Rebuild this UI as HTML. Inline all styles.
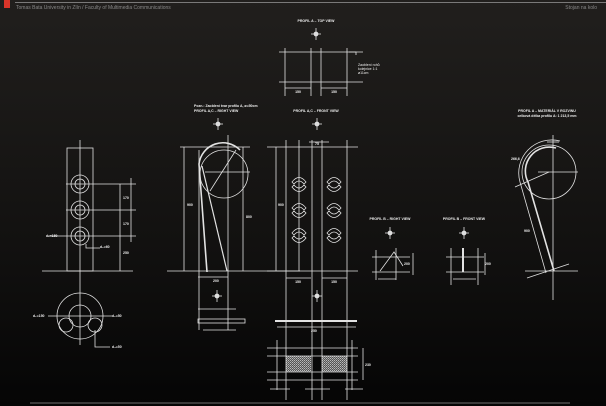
<!DOCTYPE html>
<html><head><meta charset="utf-8"><style>
html,body{margin:0;padding:0;width:606px;height:406px;overflow:hidden;background:#151413}
svg{display:block}
text{font-family:"Liberation Sans",sans-serif;fill:#eee;font-weight:bold}
</style></head><body>
<svg width="606" height="406" viewBox="0 0 606 406" xmlns="http://www.w3.org/2000/svg">
<defs>
<linearGradient id="bg" x1="0" y1="0" x2="0" y2="1">
<stop offset="0" stop-color="#211f1d"/><stop offset="0.6" stop-color="#121110"/><stop offset="1" stop-color="#050505"/>
</linearGradient>
<pattern id="h" width="2" height="2" patternUnits="userSpaceOnUse"><rect width="2" height="2" fill="#555"/><rect width="1" height="1" fill="#bbb"/><rect x="1" y="1" width="1" height="1" fill="#999"/></pattern>
<g id="cr"><line x1="-5" y1="0" x2="5" y2="0"/><line x1="0" y1="-6" x2="0" y2="6"/><circle r="2" fill="#ddd"/></g>
<path id="kid" d="M-7,-2 Q0,-11 7,-2 L5,0 Q0,-6 -5,0 Z M-7,3 Q0,12 7,3 L5,1 Q0,7 -5,1 Z" fill="none"/>
</defs>
<rect width="606" height="406" fill="url(#bg)"/>
<rect x="4" y="0" width="6" height="8" fill="#d9352a"/>
<line x1="15" y1="2.5" x2="606" y2="2.5" stroke="#999" stroke-width="0.8"/>
<text x="16" y="9" font-size="5" style="fill:#888;font-weight:normal">Tomas Bata University in Zlín / Faculty of Multimedia Communications</text>
<text x="597" y="9" font-size="5" text-anchor="end" style="fill:#888;font-weight:normal">Stojan na kolo</text>

<rect x="286" y="356" width="25" height="16" fill="url(#h)"/>
<rect x="322" y="356" width="25" height="16" fill="url(#h)"/>

<g stroke="#e2e2e2" stroke-width="0.8" fill="none">
<use href="#cr" x="316" y="34"/>
<line x1="279" y1="52" x2="363" y2="52"/><line x1="279" y1="82" x2="363" y2="82"/>
<line x1="285" y1="48" x2="285" y2="96"/><line x1="311" y1="48" x2="311" y2="96"/>
<line x1="321" y1="48" x2="321" y2="96"/><line x1="347" y1="48" x2="347" y2="96"/>
<line x1="285" y1="88" x2="311" y2="88"/><line x1="321" y1="88" x2="347" y2="88"/>
<polyline points="349,52 356,52 356,55"/>

<rect x="67" y="148" width="26" height="123"/>
<line x1="80" y1="140" x2="80" y2="345"/>
<line x1="42" y1="271" x2="133" y2="271"/>
<circle cx="80" cy="184" r="9"/><circle cx="80" cy="184" r="5"/>
<circle cx="80" cy="210" r="9"/><circle cx="80" cy="210" r="5"/>
<circle cx="80" cy="236" r="9"/><circle cx="80" cy="236" r="5"/>
<line x1="66" y1="184" x2="136" y2="184"/><line x1="66" y1="210" x2="136" y2="210"/><line x1="48" y1="236" x2="136" y2="236"/>
<line x1="120" y1="184" x2="120" y2="271"/><line x1="131" y1="178" x2="131" y2="242"/>
<polyline points="86,244 86,248 100,248"/>
<circle cx="80" cy="316" r="23"/><circle cx="80" cy="316" r="11"/>
<circle cx="66" cy="325" r="7"/><circle cx="95" cy="325" r="7"/>
<line x1="48" y1="316" x2="112" y2="316"/>
<polyline points="95,330 95,347 110,347"/>

<use href="#cr" x="218" y="124"/>
<line x1="180" y1="147" x2="250" y2="147"/>
<circle cx="224" cy="174" r="24"/>
<path d="M207,272 L199,164 A24,24 0 0,1 240,150" stroke-width="1.6"/>
<path d="M227,271 L202,166" stroke-width="1.2"/>
<line x1="167" y1="271" x2="300" y2="271"/>
<line x1="184" y1="147" x2="184" y2="271"/><line x1="199" y1="150" x2="199" y2="330"/>
<line x1="228" y1="135" x2="228" y2="330"/><line x1="243" y1="147" x2="243" y2="271"/>
<line x1="210" y1="191" x2="236" y2="150"/><line x1="205" y1="172" x2="250" y2="172"/>
<line x1="198" y1="277" x2="228" y2="277"/>
<use href="#cr" x="217" y="296"/>
<rect x="198" y="319" width="47" height="4"/>
<line x1="198" y1="309" x2="236" y2="309"/><line x1="203" y1="330" x2="236" y2="330"/>

<use href="#cr" x="317" y="124"/>
<line x1="267" y1="147" x2="358" y2="147"/><line x1="267" y1="271" x2="358" y2="271"/>
<line x1="276" y1="147" x2="276" y2="271"/>
<line x1="286" y1="140" x2="286" y2="400"/><line x1="299" y1="140" x2="299" y2="271"/>
<line x1="312" y1="140" x2="312" y2="400"/><line x1="322" y1="140" x2="322" y2="400"/>
<line x1="347" y1="140" x2="347" y2="400"/>
<line x1="309" y1="142" x2="329" y2="142"/>
<line x1="286" y1="278" x2="311" y2="278"/><line x1="322" y1="278" x2="347" y2="278"/>
<use href="#kid" x="299" y="184"/><use href="#kid" x="299" y="210"/><use href="#kid" x="299" y="235"/>
<use href="#kid" x="334" y="184"/><use href="#kid" x="334" y="210"/><use href="#kid" x="334" y="235"/>
<use href="#cr" x="317" y="296"/>
<line x1="275" y1="321" x2="357" y2="321" stroke-width="2"/>
<line x1="277" y1="327" x2="356" y2="327"/>
<line x1="267" y1="348" x2="358" y2="348"/><line x1="267" y1="356" x2="358" y2="356"/>
<line x1="267" y1="372" x2="358" y2="372"/><line x1="267" y1="380" x2="358" y2="380"/>
<line x1="277" y1="340" x2="277" y2="390"/><line x1="352" y1="340" x2="352" y2="390"/>
<line x1="363" y1="348" x2="363" y2="380"/>
<line x1="270" y1="389" x2="290" y2="389"/><line x1="305" y1="389" x2="330" y2="389"/><line x1="345" y1="389" x2="363" y2="389"/>

<use href="#cr" x="390" y="233"/>
<line x1="372" y1="257" x2="410" y2="257"/><line x1="372" y1="272" x2="410" y2="272"/>
<line x1="376" y1="250" x2="376" y2="280"/><line x1="396" y1="248" x2="396" y2="280"/>
<polyline points="380,271 394,252 403,266"/>
<line x1="413" y1="253" x2="413" y2="275"/><line x1="378" y1="279" x2="396" y2="279"/>
<use href="#cr" x="464" y="233"/>
<line x1="446" y1="257" x2="484" y2="257"/><line x1="446" y1="272" x2="484" y2="272"/>
<line x1="451" y1="248" x2="451" y2="285"/><line x1="478" y1="248" x2="478" y2="285"/>
<line x1="463" y1="248" x2="463" y2="272" stroke-width="2"/>
<line x1="485" y1="253" x2="485" y2="275"/><line x1="453" y1="279" x2="476" y2="279"/>

<circle cx="549" cy="172" r="27"/>
<path d="M554,271 L528,182 A24,24 0 0,1 556,148" stroke-width="1.6"/>
<path d="M546,273 L520,182 A33,33 0 0,1 560,141"/>
<line x1="553" y1="135" x2="553" y2="300"/>
<line x1="538" y1="172" x2="578" y2="172"/>
<line x1="515" y1="187" x2="549" y2="172"/>
<line x1="525" y1="271" x2="578" y2="271"/><line x1="527" y1="278" x2="569" y2="264"/>
<line x1="547" y1="142" x2="559" y2="142"/>
</g>

<g font-size="3.5">
<text x="316" y="22" text-anchor="middle">PROFIL A – TOP VIEW</text>
<text x="358" y="66" style="font-weight:normal">Zaoblení rohů</text>
<text x="358" y="70" style="font-weight:normal">kolejnice 1:1</text>
<text x="358" y="74" style="font-weight:normal">ø11cm</text>
<text x="298" y="93" text-anchor="middle">150</text><text x="334" y="93" text-anchor="middle">150</text>
<text x="194" y="107">Pozn.: Zaoblení tvar profilu A, ø=50cm</text>
<text x="194" y="112">PROFIL A,C – RIGHT VIEW</text>
<text x="316" y="112" text-anchor="middle">PROFIL A,C – FRONT VIEW</text>
<text x="547" y="112" text-anchor="middle">PROFIL A – MATERIÁL V ROZVINU</text>
<text x="547" y="117" text-anchor="middle">celková délka profilu A: 1 213,5 mm</text>
<text x="390" y="220" text-anchor="middle">PROFIL B – RIGHT VIEW</text>
<text x="464" y="220" text-anchor="middle">PROFIL B – FRONT VIEW</text>
<text x="187" y="206">900</text><text x="246" y="218">800</text><text x="278" y="206">900</text>
<text x="298" y="283" text-anchor="middle">150</text><text x="334" y="283" text-anchor="middle">150</text>
<text x="213" y="282">200</text><text x="315" y="145">75</text>
<text x="311" y="332">250</text><text x="365" y="366">230</text>
<text x="46" y="237">d₁=150</text><text x="100" y="248">d₂=60</text>
<text x="33" y="317">d₁=150</text><text x="112" y="317">d₂=50</text><text x="112" y="348">d₃=50</text>
<text x="123" y="199">170</text><text x="123" y="225">170</text><text x="123" y="254">250</text>
<text x="511" y="160">266,6</text><text x="524" y="232">900</text>
<text x="404" y="265">200</text><text x="485" y="265">200</text>
</g>
<rect x="30" y="402" width="540" height="2" fill="#3a3a3a"/>
</svg>
</body></html>
